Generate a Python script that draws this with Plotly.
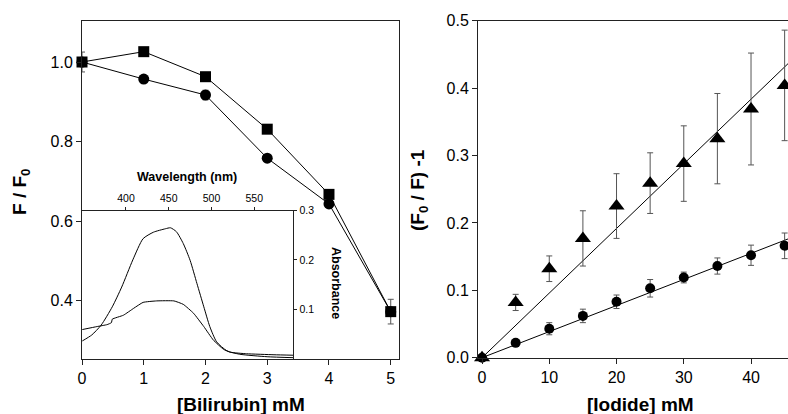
import numpy as np
import plotly.graph_objects as go

# ---------------- data ----------------
bili_x = [0, 1, 2, 3, 4, 5]
sq_y = [1.0, 1.026, 0.963, 0.831, 0.667, 0.372]
circ_y = [1.0, 0.957, 0.917, 0.758, 0.643, 0.372]
circ_err = [0.025, 0.004, 0.012, 0.004, 0.006, 0.031]

wl_a = [349, 360, 371, 384, 395, 408, 420, 432, 446, 452, 459, 467, 475, 483, 491,
        498, 506, 518, 533, 565, 596]
abs_a = [0.036, 0.048, 0.068, 0.105, 0.145, 0.200, 0.243, 0.256, 0.263, 0.265, 0.257,
         0.233, 0.199, 0.152, 0.105, 0.065, 0.034, 0.016, 0.009, 0.004, 0.002]
wl_b = [349, 366, 378, 383, 384, 397, 409, 420, 436, 456, 467, 479, 491, 502, 514,
        522, 541, 573, 596]
abs_b = [0.059, 0.065, 0.069, 0.073, 0.080, 0.088, 0.102, 0.114, 0.117, 0.117, 0.110,
         0.092, 0.065, 0.038, 0.019, 0.013, 0.010, 0.008, 0.007]

iod_x = [0, 5, 10, 15, 20, 25, 30, 35, 40, 45]
tri_y = [0.0, 0.082, 0.132, 0.177, 0.225, 0.259, 0.288, 0.325, 0.369, 0.404]
tri_err = [0.0, 0.012, 0.019, 0.041, 0.048, 0.045, 0.056, 0.067, 0.083, 0.082]
dot_y = [0.0, 0.022, 0.043, 0.062, 0.083, 0.103, 0.119, 0.136, 0.152, 0.166]
dot_err = [0.0, 0.003, 0.009, 0.010, 0.010, 0.013, 0.008, 0.012, 0.015, 0.019]

bili_ticks = [0, 1, 2, 3, 4, 5]
ff0_ticks = [0.4, 0.6, 0.8, 1.0]
ff0_ticktext = ["0.4", "0.6", "0.8", "1.0"]
iod_ticks = [0, 10, 20, 30, 40]
sv_ticks = [0.0, 0.1, 0.2, 0.3, 0.4, 0.5]
sv_ticktext = ["0.0", "0.1", "0.2", "0.3", "0.4", "0.5"]
wl_ticks = [400, 450, 500, 550]
abs_ticks = [0.1, 0.2, 0.3]

# ---------------- fits (linear through origin) ----------------
xa = np.array(iod_x, dtype=float)
k_tri = float(np.sum(xa * np.array(tri_y)) / np.sum(xa ** 2))
k_dot = float(np.sum(xa * np.array(dot_y)) / np.sum(xa ** 2))
fit_x = np.array([0.0, 47.0])

W, H = 788, 414
FONT = "Arial, 'Liberation Sans', Helvetica, sans-serif"
ERRC = "#555555"


def px_x(p):
    return p / W


def px_y(p):
    return 1 - p / H


fig = go.Figure()

# left panel
fig.add_trace(go.Scatter(x=bili_x, y=circ_y, mode="lines+markers",
                         line=dict(color="black", width=1),
                         marker=dict(symbol="circle", size=11, color="black"),
                         error_y=dict(type="data", array=circ_err, color=ERRC,
                                      thickness=1, width=3),
                         cliponaxis=False, xaxis="x", yaxis="y", showlegend=False))
fig.add_trace(go.Scatter(x=bili_x, y=sq_y, mode="lines+markers",
                         line=dict(color="black", width=1),
                         marker=dict(symbol="square", size=11, color="black"),
                         cliponaxis=False, xaxis="x", yaxis="y", showlegend=False))

# inset
fig.add_trace(go.Scatter(x=wl_a, y=abs_a, mode="lines",
                         line=dict(color="black", width=1, shape="spline", smoothing=0.6),
                         xaxis="x3", yaxis="y3", showlegend=False))
fig.add_trace(go.Scatter(x=wl_b, y=abs_b, mode="lines",
                         line=dict(color="black", width=1, shape="spline", smoothing=0.4),
                         xaxis="x3", yaxis="y3", showlegend=False))

# right panel
fig.add_trace(go.Scatter(x=fit_x, y=k_tri * fit_x, mode="lines",
                         line=dict(color="black", width=1),
                         xaxis="x2", yaxis="y2", showlegend=False))
fig.add_trace(go.Scatter(x=fit_x, y=k_dot * fit_x, mode="lines",
                         line=dict(color="black", width=1),
                         xaxis="x2", yaxis="y2", showlegend=False))
fig.add_trace(go.Scatter(x=iod_x, y=tri_y, mode="markers",
                         marker=dict(symbol="triangle-up", size=14, color="black"),
                         error_y=dict(type="data", array=tri_err, color=ERRC,
                                      thickness=1, width=3),
                         cliponaxis=False, xaxis="x2", yaxis="y2", showlegend=False))
fig.add_trace(go.Scatter(x=iod_x, y=dot_y, mode="markers",
                         marker=dict(symbol="circle", size=10, color="black"),
                         error_y=dict(type="data", array=dot_err, color=ERRC,
                                      thickness=1, width=3),
                         cliponaxis=False, xaxis="x2", yaxis="y2", showlegend=False))

axis_common = dict(showgrid=False, zeroline=False, showline=True, linecolor="#222222",
                   linewidth=1, ticks="outside", tickcolor="#222222", ticklen=5,
                   automargin=False,
                   tickfont=dict(family=FONT, size=16, color="black"))
inset_common = dict(showgrid=False, zeroline=False, showline=True, linecolor="#222222",
                    linewidth=1, ticks="outside", ticklen=3, tickcolor="#222222",
                    automargin=False,
                    tickfont=dict(family=FONT, size=10.5, color="black"))

fig.update_layout(
    width=W, height=H, autosize=False,
    margin=dict(l=0, r=0, t=0, b=0, pad=0, autoexpand=False),
    paper_bgcolor="white", plot_bgcolor="rgba(0,0,0,0)",
    xaxis=dict(domain=[px_x(82), px_x(399)], range=[0, 5.134], anchor="y",
               tickvals=bili_ticks, mirror=True, **axis_common),
    yaxis=dict(domain=[px_y(358.7), px_y(20.7)], range=[0.2536, 1.1039], anchor="x",
               tickvals=ff0_ticks, ticktext=ff0_ticktext, mirror=True, **axis_common),
    xaxis2=dict(domain=[px_x(478), 1.0], range=[-0.6, 45.5], anchor="y2",
                tickvals=iod_ticks, mirror=True, **axis_common),
    yaxis2=dict(domain=[px_y(357.7), px_y(20.7)], range=[0, 0.5], anchor="x2",
                tickvals=sv_ticks, ticktext=sv_ticktext, mirror=False, **axis_common),
    xaxis3=dict(domain=[px_x(82), px_x(293.3)], range=[348.6, 595.6], anchor="y3",
                side="top", tickvals=wl_ticks, **inset_common),
    yaxis3=dict(domain=[px_y(358.7), px_y(210.5)], range=[0, 0.3], anchor="x3",
                side="right", tickvals=abs_ticks, **inset_common),
)

ann = [
    dict(text="<b>F / F<sub>0</sub></b>", x=px_x(21), y=px_y(192), textangle=-90,
         font=dict(size=19)),
    dict(text="<b>[Bilirubin] mM</b>", x=px_x(241), y=px_y(404), font=dict(size=19)),
    dict(text="<b>(F<sub>0</sub> / F) -1</b>", x=px_x(419), y=px_y(190), textangle=-90,
         font=dict(size=19)),
    dict(text="<b>[Iodide] mM</b>", x=px_x(640), y=px_y(404), font=dict(size=19)),
    dict(text="<b>Wavelength (nm)</b>", x=px_x(187), y=px_y(177), font=dict(size=12.5)),
    dict(text="<b>Absorbance</b>", x=px_x(336), y=px_y(283), textangle=90,
         font=dict(size=12.5)),
]
for a in ann:
    a.update(xref="paper", yref="paper", showarrow=False, xanchor="center",
             yanchor="middle")
    a["font"].update(family=FONT, color="black")
fig.update_layout(annotations=ann)

fig.write_html("out.html", config={"displayModeBar": False},
               post_script="document.body.style.margin='0';document.body.style.overflow='hidden';")
